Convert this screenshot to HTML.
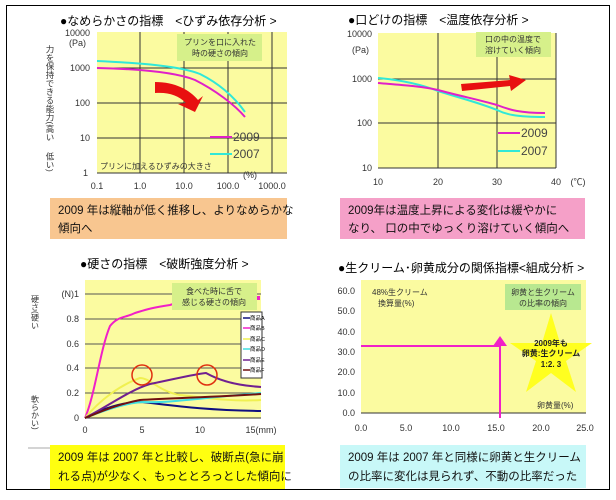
<!DOCTYPE html>
<html><head><meta charset="utf-8"><style>
html,body{margin:0;padding:0;background:#fff;}
svg text{font-family:"Liberation Sans","Noto Sans CJK JP",sans-serif;}
</style></head><body>
<svg width="616" height="495" viewBox="0 0 616 495" xmlns="http://www.w3.org/2000/svg">
<rect x="6.5" y="5.5" width="603" height="484" fill="#fff" stroke="#000" stroke-width="1"/>

<!-- ===== Chart 1 ===== -->
<text x="60" y="25" font-size="12">●なめらかさの指標　&lt;ひずみ依存分析 &gt;</text>
<rect x="97" y="32" width="190" height="141" fill="#fbfba0"/>
<g stroke="#333" stroke-width="1">
<line x1="140" y1="32" x2="140" y2="173"/><line x1="184" y1="32" x2="184" y2="173"/><line x1="228" y1="32" x2="228" y2="173"/><line x1="272" y1="32" x2="272" y2="173"/>
<line x1="97" y1="68" x2="287" y2="68"/><line x1="97" y1="103" x2="287" y2="103"/><line x1="97" y1="138" x2="287" y2="138"/>
<line x1="97" y1="173" x2="287" y2="173"/>
</g>
<g font-size="9" fill="#333" text-anchor="end">
<text x="90" y="36">10000</text><text x="86" y="46">(Pa)</text><text x="90" y="71">1000</text><text x="90" y="106">100</text><text x="90" y="141">10</text><text x="88" y="176">1</text>
</g>
<g font-size="9" fill="#333" text-anchor="middle">
<text x="97" y="189">0.1</text><text x="140" y="189">1.0</text><text x="184" y="189">10.0</text><text x="228" y="189">100.0</text><text x="272" y="189">1000.0</text><text x="250" y="178">(%)</text>
</g>
<text x="50" y="45" font-size="8.5" fill="#333" writing-mode="tb">力を保持できる能力(高い</text>
<text x="50" y="152" font-size="8.5" fill="#333" writing-mode="tb">低い)</text>
<rect x="177" y="34" width="85" height="27" fill="#d6f08a"/>
<text x="220" y="45" font-size="8" text-anchor="middle" fill="#333">プリンを口に入れた</text>
<text x="220" y="56" font-size="8" text-anchor="middle" fill="#333">時の硬さの傾向</text>
<text x="100" y="169" font-size="8" fill="#333">プリンに加えるひずみの大きさ</text>
<path d="M97,61 C140,63 180,66 200,74 C220,84 235,98 245,112" fill="none" stroke="#30e8d8" stroke-width="2"/>
<path d="M97,68 C140,69 175,72 195,80 C215,90 235,105 245,117" fill="none" stroke="#e020c8" stroke-width="2"/>
<path d="M155,82 C175,82 190,90 198,100 L203,96 L195,112 L178,104 L186,103 C178,95 168,92 155,93 Z" fill="#e81010"/>
<line x1="210" y1="137" x2="232" y2="137" stroke="#e020c8" stroke-width="2"/>
<text x="233" y="141" font-size="12" fill="#444">2009</text>
<line x1="210" y1="154" x2="232" y2="154" stroke="#30e8d8" stroke-width="2"/>
<text x="233" y="158" font-size="12" fill="#444">2007</text>
<rect x="50" y="198" width="237" height="41" fill="#f8c690"/>
<text x="58" y="214" font-size="11.5" fill="#111">2009 年は縦軸が低く推移し、よりなめらかな</text>
<text x="58" y="232" font-size="11.5" fill="#111">傾向へ</text>

<!-- ===== Chart 2 ===== -->
<text x="348" y="24" font-size="12">●口どけの指標　&lt;温度依存分析 &gt;</text>
<rect x="378" y="33" width="178" height="135" fill="#fbfba0"/>
<g stroke="#333" stroke-width="1">
<line x1="438" y1="33" x2="438" y2="168"/><line x1="497" y1="33" x2="497" y2="168"/><line x1="556" y1="33" x2="556" y2="168"/>
<line x1="378" y1="79" x2="556" y2="79"/><line x1="378" y1="123" x2="556" y2="123"/><line x1="378" y1="168" x2="556" y2="168"/>
</g>
<g font-size="9" fill="#333" text-anchor="end">
<text x="372" y="37">10000</text><text x="369" y="53">(Pa)</text><text x="372" y="82">1000</text><text x="372" y="126">100</text><text x="372" y="171">10</text>
</g>
<g font-size="9" fill="#333" text-anchor="middle">
<text x="378" y="185">10</text><text x="438" y="185">20</text><text x="497" y="185">30</text><text x="556" y="185">40</text><text x="578" y="185">(℃)</text>
</g>
<rect x="476" y="32" width="75" height="25" fill="#d6f08a"/>
<text x="513" y="42" font-size="8" text-anchor="middle" fill="#333">口の中の温度で</text>
<text x="513" y="53" font-size="8" text-anchor="middle" fill="#333">溶けていく傾向</text>
<path d="M378,78 C400,80 420,84 438,91 C460,98 480,103 497,110 C505,114 515,117 545,117" fill="none" stroke="#30e8d8" stroke-width="2"/>
<path d="M378,83 C400,85 420,86 438,90 C460,96 480,100 497,105 C510,110 520,113 545,113" fill="none" stroke="#e020c8" stroke-width="2"/>
<path d="M461,84 L510,80 L509,75 L526,80 L511,91 L510,86 L462,91 Z" fill="#e81010"/>
<line x1="498" y1="133" x2="520" y2="133" stroke="#e020c8" stroke-width="2"/>
<text x="521" y="137" font-size="12" fill="#444">2009</text>
<line x1="498" y1="151" x2="520" y2="151" stroke="#30e8d8" stroke-width="2"/>
<text x="521" y="155" font-size="12" fill="#444">2007</text>
<rect x="340" y="198" width="245" height="41" fill="#f5a0c8"/>
<text x="348" y="214" font-size="11.5" fill="#111">2009年は温度上昇による変化は緩やかに</text>
<text x="348" y="232" font-size="11.5" fill="#111">なり、 口の中でゆっくり溶けていく傾向へ</text>

<!-- ===== Chart 3 ===== -->
<text x="80" y="268" font-size="12">●硬さの指標　&lt;破断強度分析 &gt;</text>
<rect x="85" y="280" width="176" height="138" fill="#fbfba0"/>
<g stroke="#555" stroke-width="1">
<line x1="85" y1="294" x2="261" y2="294"/><line x1="85" y1="319" x2="261" y2="319"/><line x1="85" y1="344" x2="261" y2="344"/><line x1="85" y1="368" x2="261" y2="368"/><line x1="85" y1="393" x2="261" y2="393"/>
<line x1="85" y1="418" x2="261" y2="418" stroke="#333"/>
</g>
<g font-size="9" fill="#333" text-anchor="end">
<text x="79" y="297">(N)1</text><text x="79" y="322">0.8</text><text x="79" y="347">0.6</text><text x="79" y="371">0.4</text><text x="79" y="396">0.2</text><text x="79" y="421">0</text>
</g>
<g font-size="9" fill="#333" text-anchor="middle">
<text x="85" y="433">0</text><text x="142" y="433">5</text><text x="200" y="433">10</text><text x="261" y="433">15(mm)</text>
</g>
<text x="35" y="295" font-size="8" fill="#333" writing-mode="tb">硬さ(硬い</text>
<text x="35" y="395" font-size="8" fill="#333" writing-mode="tb">軟らかい)</text>
<line x1="28" y1="448" x2="50" y2="448" stroke="#aaa"/>
<path d="M85,418 C100,410 120,402 142,402 C170,405 200,410 261,411" fill="none" stroke="#101080" stroke-width="2"/>
<path d="M85,418 C95,395 100,350 110,326 C118,316 125,318 135,313 C145,310 150,308 170,305 L176,303" fill="none" stroke="#f020c8" stroke-width="2"/>
<rect x="256" y="296" width="4" height="4" fill="#f020c8"/>
<path d="M85,418 C100,400 120,385 140,378 C150,378 160,392 180,395 C200,397 230,402 261,400" fill="none" stroke="#f0f050" stroke-width="2"/>
<path d="M85,418 C110,408 130,402 145,402 C170,403 200,398 261,393" fill="none" stroke="#40e0e0" stroke-width="2"/>
<path d="M85,418 C110,405 130,390 150,384 C175,379 195,374 206,373 C215,378 230,385 261,387" fill="none" stroke="#702090" stroke-width="2"/>
<path d="M85,418 C100,412 115,405 140,400 C170,398 200,398 261,394" fill="none" stroke="#701010" stroke-width="2"/>
<circle cx="142" cy="375" r="10" fill="none" stroke="#e03010" stroke-width="1.5"/>
<circle cx="207" cy="375" r="10" fill="none" stroke="#e03010" stroke-width="1.5"/>
<rect x="172" y="283" width="85" height="27" fill="#d6f08a"/>
<text x="214" y="294" font-size="8" text-anchor="middle" fill="#333">食べた時に舌で</text>
<text x="214" y="305" font-size="8" text-anchor="middle" fill="#333">感じる硬さの傾向</text>
<rect x="241" y="312" width="21" height="66" fill="#fff" stroke="#333"/>
<g font-size="5.5" fill="#000" stroke-width="1.5">
<line x1="243" y1="318" x2="250" y2="318" stroke="#101080"/><text x="250" y="320">商品A</text>
<line x1="243" y1="328" x2="250" y2="328" stroke="#f020c8"/><text x="250" y="330">商品B</text>
<line x1="243" y1="339" x2="250" y2="339" stroke="#f0f050"/><text x="250" y="341">商品C</text>
<line x1="243" y1="349" x2="250" y2="349" stroke="#40e0e0"/><text x="250" y="351">商品D</text>
<line x1="243" y1="360" x2="250" y2="360" stroke="#702090"/><text x="250" y="362">商品E</text>
<line x1="243" y1="370" x2="250" y2="370" stroke="#701010"/><text x="250" y="372">商品F</text>
</g>
<rect x="50" y="445" width="235" height="44" fill="#ffff10"/>
<text x="58" y="461" font-size="11.5" fill="#111">2009 年は 2007 年と比較し、破断点(急に崩</text>
<text x="58" y="480" font-size="11.5" fill="#111">れる点)が少なく、もっととろっとした傾向に</text>

<!-- ===== Chart 4 ===== -->
<text x="338" y="272" font-size="12">●生クリーム･卵黄成分の関係指標&lt;組成分析 &gt;</text>
<rect x="361" y="280" width="225" height="133" fill="#fbfba0"/>
<line x1="361" y1="413" x2="586" y2="413" stroke="#333"/>
<g font-size="9" fill="#333" text-anchor="end">
<text x="355" y="294">60.0</text><text x="355" y="314">50.0</text><text x="355" y="335">40.0</text><text x="355" y="355">30.0</text><text x="355" y="375">20.0</text><text x="355" y="396">10.0</text><text x="355" y="416">0.0</text>
</g>
<g font-size="9" fill="#333" text-anchor="middle">
<text x="361" y="431">0.0</text><text x="406" y="431">5.0</text><text x="451" y="431">10.0</text><text x="496" y="431">15.0</text><text x="541" y="431">20.0</text><text x="585" y="431">25.0</text>
</g>
<text x="372" y="295" font-size="8" fill="#333">48%生クリーム</text>
<text x="378" y="306" font-size="8" fill="#333">換算量(%)</text>
<text x="537" y="408" font-size="8" fill="#333">卵黄量(%)</text>
<line x1="361" y1="346" x2="500" y2="346" stroke="#f020c8" stroke-width="2"/>
<line x1="500" y1="418" x2="500" y2="344" stroke="#f020c8" stroke-width="2"/>
<path d="M493,346 L500,336 L507,346 Z" fill="#f020c8"/>
<path d="M551,313 L560,343 L592,343 L566,361 L576,392 L551,373 L526,392 L536,361 L510,343 L542,343 Z" fill="#ffff20"/>
<text x="551" y="346" font-size="8" font-weight="bold" text-anchor="middle" fill="#222">2009年も</text>
<text x="551" y="356" font-size="8" font-weight="bold" text-anchor="middle" fill="#222">卵黄:生クリーム</text>
<text x="551" y="367" font-size="8" font-weight="bold" text-anchor="middle" fill="#222">1:2. 3</text>
<rect x="505" y="284" width="76" height="26" fill="#b8e890"/>
<text x="543" y="295" font-size="8" text-anchor="middle" fill="#333">卵黄と生クリーム</text>
<text x="543" y="306" font-size="8" text-anchor="middle" fill="#333">の比率の傾向</text>
<rect x="340" y="445" width="246" height="43" fill="#c8f8f8"/>
<text x="348" y="461" font-size="11.5" fill="#111">2009 年は 2007 年と同様に卵黄と生クリーム</text>
<text x="348" y="480" font-size="11.5" fill="#111">の比率に変化は見られず、不動の比率だった</text>
</svg>
</body></html>
